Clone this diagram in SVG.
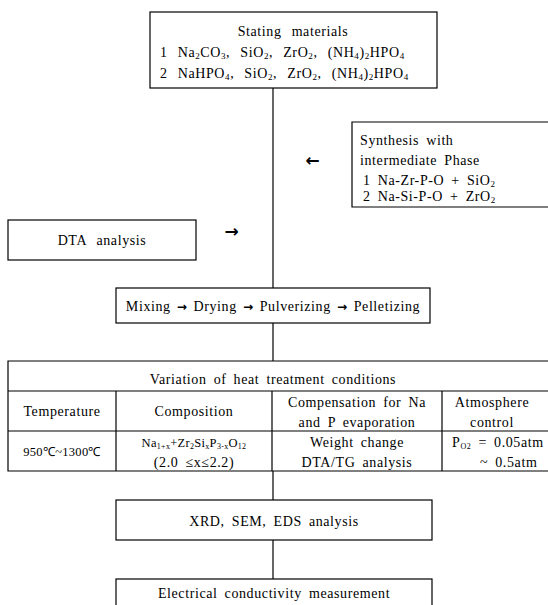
<svg xmlns="http://www.w3.org/2000/svg" width="548" height="605" viewBox="0 0 548 605">
<style>
.b{fill:none;stroke:#000;stroke-width:1.2}
.l{stroke:#000;stroke-width:1.2;fill:none}
text{font-family:"Liberation Serif","Times New Roman",serif;font-size:14px;fill:#000;letter-spacing:0.6px;word-spacing:3px}
.c{text-anchor:middle}
.w{word-spacing:6px}
.s{font-size:12.5px;letter-spacing:0.3px}
.ar{font-family:"DejaVu Sans",sans-serif;font-size:17px;font-weight:bold}
.ma{font-family:"DejaVu Sans",sans-serif;font-size:12px;font-weight:bold}
</style>
<rect width="548" height="605" fill="#fff"/>
<g id="connectors">
<line class="l" x1="273" y1="88" x2="273" y2="288"/>
<line class="l" x1="273" y1="323" x2="273" y2="361"/>
<line class="l" x1="273" y1="471" x2="273" y2="500"/>
<line class="l" x1="273" y1="540" x2="273" y2="579"/>
<text class="ar c" x="313" y="166">←</text>
<text class="ar c" x="232" y="237">→</text>
</g>
<g id="starting">
<rect class="b" x="150" y="12" width="287" height="76"/>
<text class="c w" x="293" y="36">Stating materials</text>
<text class="w" x="160" y="57">1 Na<tspan font-size="9" dy="2">2</tspan><tspan dy="-2">CO</tspan><tspan font-size="9" dy="2">3</tspan><tspan dy="-2">, SiO</tspan><tspan font-size="9" dy="2">2</tspan><tspan dy="-2">, ZrO</tspan><tspan font-size="9" dy="2">2</tspan><tspan dy="-2">, (NH</tspan><tspan font-size="9" dy="2">4</tspan><tspan dy="-2">)</tspan><tspan font-size="9" dy="2">2</tspan><tspan dy="-2">HPO</tspan><tspan font-size="9" dy="2">4</tspan></text>
<text class="w" x="160" y="78">2 NaHPO<tspan font-size="9" dy="2">4</tspan><tspan dy="-2">, SiO</tspan><tspan font-size="9" dy="2">2</tspan><tspan dy="-2">, ZrO</tspan><tspan font-size="9" dy="2">2</tspan><tspan dy="-2">, (NH</tspan><tspan font-size="9" dy="2">4</tspan><tspan dy="-2">)</tspan><tspan font-size="9" dy="2">2</tspan><tspan dy="-2">HPO</tspan><tspan font-size="9" dy="2">4</tspan></text>
</g>
<g id="synthesis">
<path class="b" d="M548,122 H352 V207 H548"/>
<text x="360" y="145">Synthesis with</text>
<text x="360" y="165">intermediate Phase</text>
<text x="363" y="185">1 Na-Zr-P-O + SiO<tspan font-size="9" dy="2">2</tspan></text>
<text x="363" y="201">2 Na-Si-P-O + ZrO<tspan font-size="9" dy="2">2</tspan></text>
</g>
<g id="dta">
<rect class="b" x="8" y="220" width="188" height="40"/>
<text class="c w" x="102" y="245">DTA analysis</text>
</g>
<g id="mixing">
<rect class="b" x="116" y="288" width="314" height="35"/>
<text class="c" x="273" y="311" style="word-spacing:2px">Mixing <tspan class="ma">→</tspan> Drying <tspan class="ma">→</tspan> Pulverizing <tspan class="ma">→</tspan> Pelletizing</text>
</g>
<g id="heat">
<path class="b" d="M548,361 H8 V471 H548"/>
<line class="l" x1="8" y1="391" x2="548" y2="391"/>
<line class="l" x1="8" y1="431" x2="548" y2="431"/>
<line class="l" x1="116" y1="391" x2="116" y2="471"/>
<line class="l" x1="272" y1="391" x2="272" y2="471"/>
<line class="l" x1="442" y1="391" x2="442" y2="471"/>
<text class="c" x="273" y="384">Variation of heat treatment conditions</text>
<text class="c" x="62" y="416">Temperature</text>
<text class="c" x="194" y="416">Composition</text>
<text class="c" x="357" y="407">Compensation for Na</text>
<text class="c" x="357" y="427">and P evaporation</text>
<text class="c" x="492" y="407">Atmosphere</text>
<text class="c" x="492" y="427">control</text>
<text class="c s" x="62" y="456">950℃~1300℃</text>
<text class="c s" x="194" y="447">Na<tspan font-size="8" dy="2">1+x</tspan><tspan dy="-2">+Zr</tspan><tspan font-size="8" dy="2">2</tspan><tspan dy="-2">Si</tspan><tspan font-size="8" dy="2">x</tspan><tspan dy="-2">P</tspan><tspan font-size="8" dy="2">3-x</tspan><tspan dy="-2">O</tspan><tspan font-size="8" dy="2">12</tspan></text>
<text class="c" x="194" y="467">(2.0 ≤x≤2.2)</text>
<text class="c" x="357" y="447">Weight change</text>
<text class="c" x="357" y="467">DTA/TG analysis</text>
<text x="452" y="447">P<tspan font-size="8" dy="2">O2</tspan><tspan dy="-2"> = 0.05atm</tspan></text>
<text x="480" y="467">~ 0.5atm</text>
</g>
<g id="xrd">
<rect class="b" x="116" y="500" width="316" height="40"/>
<text class="c" x="274" y="526">XRD, SEM, EDS analysis</text>
</g>
<g id="electrical">
<rect class="b" x="116" y="579" width="316" height="40"/>
<text class="c" x="274" y="598">Electrical conductivity measurement</text>
</g>
</svg>
